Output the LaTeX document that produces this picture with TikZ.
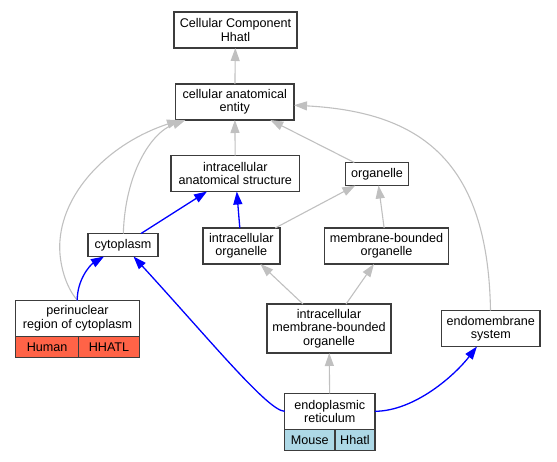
\documentclass[tikz,border=0pt]{standalone}
\usepackage{fontspec}
\setmainfont{Liberation Sans}
\usepackage{tikz}
\usetikzlibrary{arrows.meta}
\definecolor{isagray}{RGB}{192,192,192}
\definecolor{partblue}{RGB}{0,0,255}
\definecolor{boxline}{RGB}{60,60,60}
\definecolor{humanred}{RGB}{255,99,71}
\definecolor{mouseblue}{RGB}{173,216,230}
\tikzset{
  term/.style={draw=boxline, line width=1.4pt, fill=white, align=center,
    inner xsep=2pt, inner ysep=1pt, outer sep=0pt, minimum height=23pt,
    font=\fontsize{12.6}{13.3}\selectfont},
  twoline/.style={minimum height=36pt},
  cell/.style={term, anchor=north west, minimum height=21pt},
  isa/.style={draw=isagray, line width=1.1pt, -{Triangle[length=13pt,width=9pt]}},
  partof/.style={draw=partblue, line width=1.3pt, -{Triangle[length=13pt,width=9pt]}}
}
\begin{document}
\begin{tikzpicture}[x=1pt, y=-1pt]
\useasboundingbox (0,0) rectangle (557,461);

\node[term, twoline, minimum width=123pt] (top) at (235.5,30) {Cellular Component\\Hhatl};
\node[term, twoline, minimum width=118.5pt] (cae) at (234.75,102) {cellular anatomical\\entity};
\node[term, twoline, minimum width=128.6pt] (ias) at (235.3,173.5) {intracellular\\anatomical structure};
\node[term, minimum width=62.8pt] (org) at (377,174) {organelle};
\node[term, minimum width=70pt] (cyto) at (123,245) {cytoplasm};
\node[term, twoline, minimum width=77pt] (io) at (241.3,246) {intracellular\\organelle};
\node[term, twoline, minimum width=124pt] (mbo) at (386.5,246) {membrane-bounded\\organelle};
\node[term, twoline, minimum width=123.6pt] (peri) at (77.5,318.3) {perinuclear\\region of cytoplasm};
\node[cell, fill=humanred, minimum width=63pt] (perihuman) at (peri.south west) {Human};
\node[cell, fill=humanred, minimum width=60.6pt] (perihhatl) at (perihuman.north east) {HHATL};
\node[term, minimum width=124pt, minimum height=49pt] (imbo) at (329,328.5) {intracellular\\membrane-bounded\\organelle};
\node[term, twoline, minimum width=98.5pt] (endo) at (490.8,328.5) {endomembrane\\system};
\node[term, twoline, minimum width=90.3pt] (er) at (329.8,411.3) {endoplasmic\\reticulum};
\node[cell, fill=mouseblue, minimum width=50.3pt] (ermouse) at (er.south west) {Mouse};
\node[cell, fill=mouseblue, minimum width=40pt] (erhhatl) at (ermouse.north east) {Hhatl};

\draw[isa] (cae) -- (top);
\draw[isa] (ias) -- (cae);
\draw[isa] (org) -- (cae);
\draw[isa] (cyto) .. controls (125,175) and (150,133) .. (cae);
\draw[isa] (peri.north) .. controls (66,288) and (58,262) .. (60,240)
  .. controls (64,190) and (110,143) .. (cae);
\draw[isa] (endo) .. controls (488,160) and (420,112) .. (cae);
\draw[isa] (io) -- (org);
\draw[isa] (mbo) -- (org);
\draw[isa] (imbo) -- (io);
\draw[isa] (imbo) -- (mbo);
\draw[isa] (er) -- (imbo);

\draw[partof] (cyto) -- (ias);
\draw[partof] (io) -- (ias);
\draw[partof] (peri) .. controls (77,280) and (90,265) .. (cyto);
\draw[partof] (er.west) .. controls (268,411) and (210,340) .. (cyto);
\draw[partof] (er.east) .. controls (415,411) and (455,375) .. (endo);

\end{tikzpicture}
\end{document}
